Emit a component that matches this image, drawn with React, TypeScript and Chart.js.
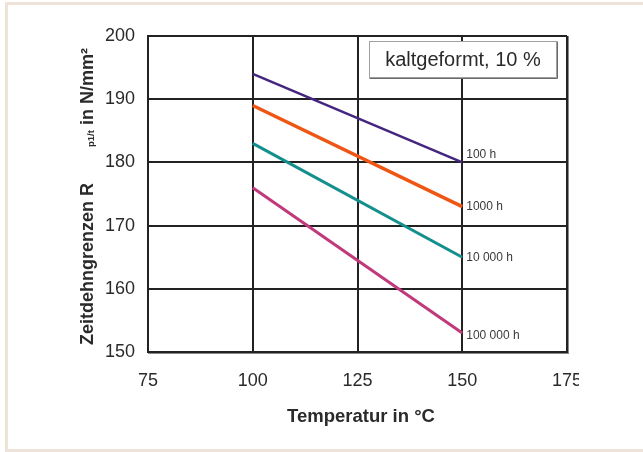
import React, { useEffect, useRef } from "react";
import { Chart, registerables } from "chart.js";

Chart.register(...registerables);

// ---- data ----
const temperatures = [100, 150];
const seriesNames = ["100 h", "1000 h", "10 000 h", "100 000 h"];
const r100h = [194, 180];
const r1000h = [189, 173];
const r10000h = [183, 165];
const r100000h = [176, 153];
const xTicks = [75, 100, 125, 150, 175];
const yTicks = [150, 160, 170, 180, 190, 200];
const xTitle = "Temperatur in °C";
const yTitleMain = "Zeitdehngrenzen R";
const yTitleSub = "p1/t";
const yTitleRest = " in N/mm²";
const annotationText = "kaltgeformt, 10 %";
// annotation box in data coordinates
const annotationX = [127.7, 172.3];
const annotationY = [199.2, 193.5];

// ---- styles ----
const COLORS = ["#45257f", "#ef5614", "#13908d", "#c0397a"];
const WIDTHS = [2.5, 3.5, 3, 3];
const LABEL_DY = [-8, 0, 0, 3];
const FONT = "'Liberation Sans', Arial, Helvetica, sans-serif";
const TEXT = "#2a2a2a";
const GRID = "#222222";

const overlayPlugin = {
  id: "overlay",
  afterDatasetsDraw(chart: any) {
    const { ctx, chartArea, scales } = chart;
    const xs = scales.x;
    const ys = scales.y;
    ctx.save();
    // shadow of plot border
    ctx.strokeStyle = "#8a8a8a";
    ctx.lineWidth = 1;
    ctx.beginPath();
    ctx.moveTo(chartArea.right + 1.5, chartArea.top);
    ctx.lineTo(chartArea.right + 1.5, chartArea.bottom + 2);
    ctx.moveTo(chartArea.left, chartArea.bottom + 1.5);
    ctx.lineTo(chartArea.right + 2, chartArea.bottom + 1.5);
    ctx.stroke();

    // series labels
    ctx.font = `12px ${FONT}`;
    ctx.fillStyle = "#3a3a3a";
    ctx.textAlign = "left";
    ctx.textBaseline = "middle";
    chart.data.datasets.forEach((ds: any, i: number) => {
      const meta = chart.getDatasetMeta(i);
      const pt = meta.data[meta.data.length - 1];
      ctx.fillText(seriesNames[i], pt.x + 4, pt.y + LABEL_DY[i]);
    });

    // annotation box
    const bx1 = Math.round(xs.getPixelForValue(annotationX[0])) + 0.5;
    const bx2 = Math.round(xs.getPixelForValue(annotationX[1])) + 0.5;
    const by1 = Math.round(ys.getPixelForValue(annotationY[0])) + 0.5;
    const by2 = Math.round(ys.getPixelForValue(annotationY[1])) + 0.5;
    ctx.fillStyle = "#ffffff";
    ctx.fillRect(bx1, by1, bx2 - bx1, by2 - by1);
    ctx.strokeStyle = "#a0a0a0";
    ctx.lineWidth = 1;
    ctx.strokeRect(bx1, by1, bx2 - bx1, by2 - by1);
    ctx.strokeStyle = "#6a6a6a";
    ctx.beginPath();
    ctx.moveTo(bx2 + 1, by1);
    ctx.lineTo(bx2 + 1, by2 + 1);
    ctx.lineTo(bx1, by2 + 1);
    ctx.stroke();
    ctx.fillStyle = TEXT;
    ctx.font = `20px ${FONT}`;
    ctx.textAlign = "center";
    ctx.textBaseline = "middle";
    ctx.fillText(annotationText, (bx1 + bx2) / 2, (by1 + by2) / 2 + 1);

    // x title
    ctx.font = `bold 18.5px ${FONT}`;
    ctx.textAlign = "center";
    ctx.textBaseline = "alphabetic";
    ctx.fillText(xTitle, 361, 422);

    // y title (rotated, with subscript)
    ctx.translate(93, 345);
    ctx.rotate(-Math.PI / 2);
    ctx.textAlign = "left";
    ctx.textBaseline = "alphabetic";
    ctx.font = `bold 18px ${FONT}`;
    let x = 0;
    ctx.fillText(yTitleMain, x, 0);
    x += ctx.measureText(yTitleMain).width + 36;
    ctx.font = `bold 9.5px ${FONT}`;
    ctx.fillText(yTitleSub, x, 1);
    x += ctx.measureText(yTitleSub).width;
    ctx.font = `bold 18px ${FONT}`;
    ctx.fillText(yTitleRest, x, 0);
    ctx.restore();
  },
};

export default function App() {
  const ref = useRef<HTMLCanvasElement | null>(null);

  useEffect(() => {
    if (!ref.current) return;
    Chart.defaults.font.family = FONT;
    const seriesValues = [r100h, r1000h, r10000h, r100000h];
    const chart = new Chart(ref.current, {
      type: "line",
      data: {
        datasets: seriesValues.map((vals, i) => ({
          label: seriesNames[i],
          data: temperatures.map((t, j) => ({ x: t, y: vals[j] })),
          borderColor: COLORS[i],
          backgroundColor: COLORS[i],
          borderWidth: WIDTHS[i],
          pointRadius: 0,
          tension: 0,
          fill: false,
        })),
      },
      options: {
        responsive: false,
        animation: false,
        devicePixelRatio: 1,
        layout: { padding: { top: 36, right: 12, left: 0, bottom: 0 } },
        plugins: {
          legend: { display: false },
          tooltip: { enabled: false },
          title: { display: false },
        },
        scales: {
          x: {
            type: "linear",
            min: xTicks[0],
            max: xTicks[xTicks.length - 1],
            afterBuildTicks: (s: any) => {
              s.ticks = xTicks.map((v) => ({ value: v }));
            },
            ticks: {
              font: { size: 18 },
              color: TEXT,
              padding: 18,
              maxRotation: 0,
              autoSkip: false,
            },
            grid: { color: GRID, lineWidth: 2, drawTicks: false },
            border: { display: true, color: GRID, width: 2 },
            title: { display: false },
            afterFit: (s: any) => {
              s.height = 100;
              s.paddingLeft = 0;
              s.paddingRight = 0;
            },
          },
          y: {
            type: "linear",
            min: yTicks[0],
            max: yTicks[yTicks.length - 1],
            afterBuildTicks: (s: any) => {
              s.ticks = yTicks.map((v) => ({ value: v }));
            },
            ticks: {
              font: { size: 18 },
              color: TEXT,
              padding: 13,
              autoSkip: false,
            },
            grid: { color: GRID, lineWidth: 2, drawTicks: false },
            border: { display: true, color: GRID, width: 2 },
            title: { display: false },
            afterFit: (s: any) => {
              s.width = 148;
              s.paddingTop = 0;
              s.paddingBottom = 0;
            },
          },
        },
      },
      plugins: [overlayPlugin],
    } as any);
    return () => chart.destroy();
  }, []);

  return (
    <div
      style={{
        position: "fixed",
        left: 0,
        top: 0,
        width: 643,
        height: 452,
        background: "#ffffff",
        overflow: "hidden",
      }}
    >
      <div style={{ position: "absolute", left: 5, top: 2, width: 638, height: 3, background: "#efe3d9" }} />
      <div style={{ position: "absolute", left: 5, top: 2, width: 3, height: 450, background: "#efe3d9" }} />
      <div style={{ position: "absolute", left: 5, top: 449, width: 638, height: 3, background: "#efe3d9" }} />
      <canvas
        ref={ref}
        width={579}
        height={452}
        style={{ position: "absolute", left: 0, top: 0, width: 579, height: 452 }}
      />
    </div>
  );
}
